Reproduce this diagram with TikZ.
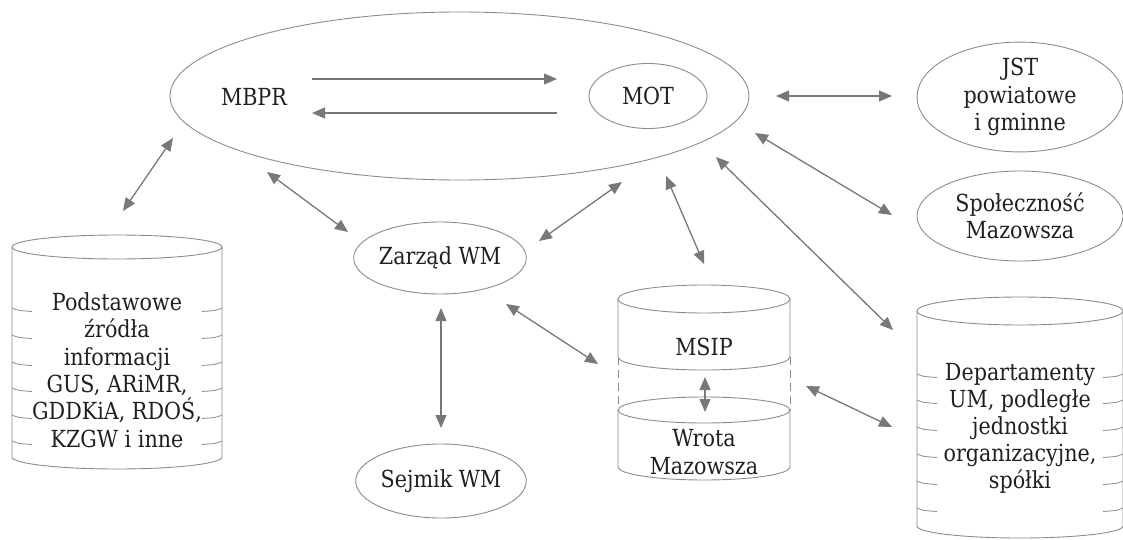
\documentclass[tikz,border=0pt]{standalone}
\usepackage{fontspec}
\setmainfont{DejaVu Serif}[FakeStretch=0.88]
\usetikzlibrary{arrows.meta,shapes.geometric}
\definecolor{linegray}{HTML}{8C8C8E}
\definecolor{arrgray}{HTML}{77787B}
\definecolor{txt}{HTML}{231F20}
\newcommand\diagfont{\fontsize{23.5}{27.5}\selectfont}
\begin{document}
\begin{tikzpicture}[x=1pt,y=-1pt,
  ell/.style={ellipse, draw=linegray, line width=0.9pt, inner sep=0pt, text=txt, font=\diagfont, align=center},
  lbl/.style={text=txt, font=\diagfont, align=center, inner sep=0pt},
  cyl/.style={draw=linegray, line width=0.9pt},
  arr/.style={draw=arrgray, line width=1.3pt, {Triangle[length=13pt,width=11pt]}-{Triangle[length=13pt,width=11pt]}},
  onearr/.style={draw=arrgray, line width=1.3pt, -{Triangle[length=13pt,width=11pt]}},
  tick/.style={draw=linegray, line width=0.8pt}]
\useasboundingbox (0,0) rectangle (1123,540);
\fill[white] (0,0) rectangle (1123,540);

% ---- ellipses ----
\node[ell, minimum width=579pt, minimum height=168pt] (big) at (459.5,96) {};
\node[lbl] (mbpr) at (254,97) {MBPR};
\node[ell, minimum width=118pt, minimum height=65pt] (mot) at (648,96) {MOT};
\node[ell, minimum width=206pt, minimum height=92pt] (jst) at (1020,97) {JST\\powiatowe\\i gminne};
\node[ell, minimum width=206pt, minimum height=90pt] (spol) at (1020,216) {Społeczność\\Mazowsza};
\node[ell, minimum width=161pt, minimum height=72pt] (zarzad) at (440,258) {Zarząd WM};
\node[ell, minimum width=162pt, minimum height=74pt] (sejmik) at (441,481) {Sejmik WM};

% ---- left cylinder ----
\draw[cyl] (117,247) ellipse [x radius=105pt, y radius=12pt];
\draw[cyl] (12,247) -- (12,457) arc[start angle=180, end angle=360, x radius=105pt, y radius=12pt] -- (222,247);
\foreach \yy in {308,335,362,388,415,441}{
  \draw[tick] (12,\yy) .. controls (18,\yy+2.5) .. (32,\yy+3.5);
  \draw[tick] (202,\yy+3.5) .. controls (216,\yy+2.5) .. (222,\yy);
}
\node[lbl, font=\fontsize{23.5}{27.3}\selectfont] (zrodla) at (117,370) {Podstawowe\\źródła\\informacji\\GUS, ARiMR,\\GDDKiA, RDOŚ,\\KZGW i inne};

% ---- middle cylinder ----
\draw[cyl] (704,299) ellipse [x radius=86pt, y radius=14pt];
\draw[cyl] (618,299) -- (618,357) arc[start angle=180, end angle=360, x radius=86pt, y radius=13pt] -- (790,299);
\draw[cyl, dash pattern=on 8pt off 5pt] (618,357) -- (618,410);
\draw[cyl, dash pattern=on 8pt off 5pt] (790,357) -- (790,410);
\draw[cyl] (704,410) ellipse [x radius=86pt, y radius=13pt];
\draw[cyl] (618,410) -- (618,467) arc[start angle=180, end angle=360, x radius=86pt, y radius=13pt] -- (790,410);
\node[lbl] (msip) at (704,347) {MSIP};
\node[lbl] (wrota) at (704,452) {Wrota\\Mazowsza};

% ---- right cylinder ----
\draw[cyl] (1020,311) ellipse [x radius=103pt, y radius=14pt];
\draw[cyl] (917,311) -- (917,526) arc[start angle=180, end angle=360, x radius=103pt, y radius=12pt] -- (1123,311);
\foreach \yy in {374,400,427,454,481,508}{
  \draw[tick] (917,\yy) .. controls (923,\yy+2.5) .. (937,\yy+3.5);
  \draw[tick] (1103,\yy+3.5) .. controls (1117,\yy+2.5) .. (1123,\yy);
}
\node[lbl, font=\fontsize{23.5}{27}\selectfont] (dep) at (1020,428.5) {Departamenty\\UM, podległe\\jednostki\\organizacyjne,\\spółki};

% ---- arrow end points ----
\coordinate (m1s) at (312,79);  \coordinate (m1e) at (557,79);
\coordinate (m2s) at (557,113); \coordinate (m2e) at (312,113);
\coordinate (a1s) at (123,211); \coordinate (a1e) at (173,138);
\coordinate (a2s) at (267,172); \coordinate (a2e) at (348,232);
\coordinate (a3s) at (539,241); \coordinate (a3e) at (622,182);
\coordinate (a4s) at (666,176); \coordinate (a4e) at (704,264);
\coordinate (a5s) at (776,96);  \coordinate (a5e) at (892,96);
\coordinate (a6s) at (755,133); \coordinate (a6e) at (892,215);
\coordinate (a7s) at (716,157); \coordinate (a7e) at (893,330);
\coordinate (a8s) at (441,308); \coordinate (a8e) at (441,428);
\coordinate (a9s) at (506,304); \coordinate (a9e) at (598,364);
\coordinate (a10s) at (806,386); \coordinate (a10e) at (892,427);
\coordinate (a11s) at (705,377); \coordinate (a11e) at (705,412);

\draw[onearr] (m1s) -- (m1e);
\draw[onearr] (m2s) -- (m2e);
\draw[arr] (a1s) -- (a1e);
\draw[arr] (a2s) -- (a2e);
\draw[arr] (a3s) -- (a3e);
\draw[arr] (a4s) -- (a4e);
\draw[arr] (a5s) -- (a5e);
\draw[arr] (a6s) -- (a6e);
\draw[arr] (a7s) -- (a7e);
\draw[arr] (a8s) -- (a8e);
\draw[arr] (a9s) -- (a9e);
\draw[arr] (a10s) -- (a10e);
\draw[arr] (a11s) -- (a11e);
\end{tikzpicture}
\end{document}
